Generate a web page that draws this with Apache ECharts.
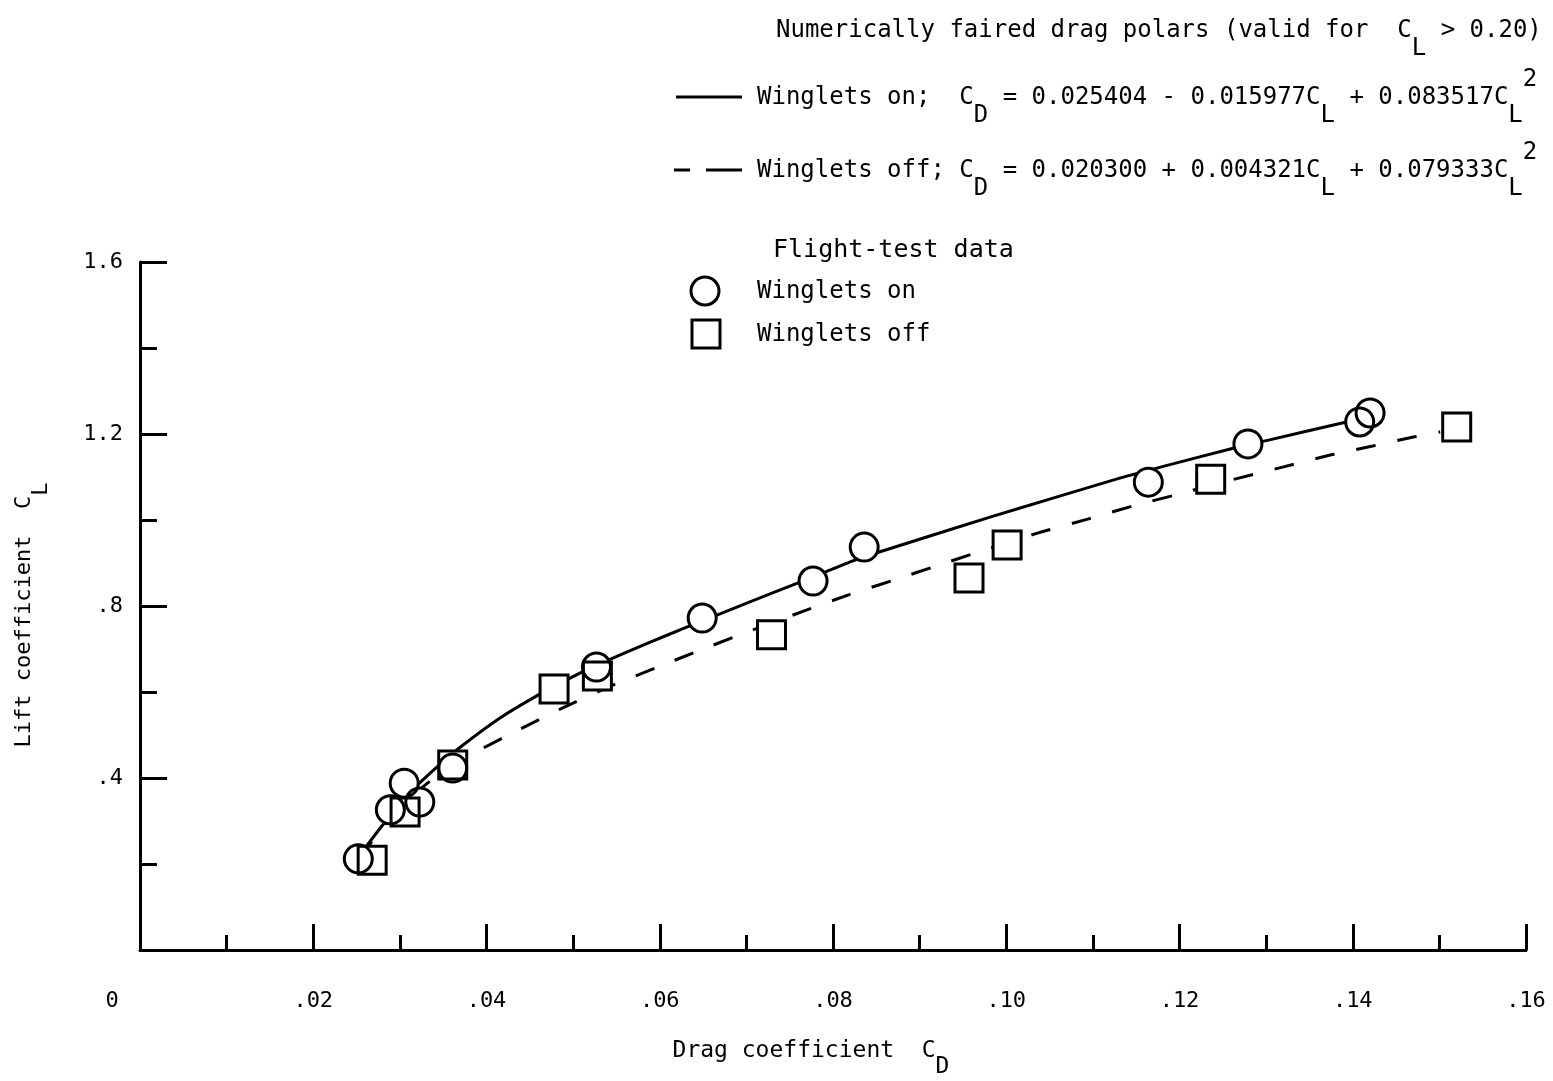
<!DOCTYPE html>
<html>
<head>
<meta charset="utf-8">
<script src="https://cdn.jsdelivr.net/npm/echarts@6.0.0/dist/echarts.min.js"></script>
<style>
html,body{margin:0;padding:0;background:#fff;}
#chart{width:1553px;height:1081px;}
</style>
</head>
<body>
<div id="chart"></div>
<script>
// ---- Data ----
// Flight-test data, winglets on (circles)
const onCD = [0.0252, 0.0289, 0.0305, 0.0323, 0.0361, 0.0527, 0.0649, 0.0777, 0.0836, 0.1164, 0.1279, 0.1408, 0.1420];
const onCL = [0.212, 0.326, 0.388, 0.344, 0.423, 0.658, 0.772, 0.858, 0.937, 1.088, 1.177, 1.228, 1.249];
// Flight-test data, winglets off (squares)
const offCD = [0.0268, 0.0306, 0.0361, 0.0478, 0.0528, 0.0729, 0.0957, 0.1001, 0.1236, 0.1520];
const offCL = [0.209, 0.321, 0.430, 0.607, 0.637, 0.733, 0.865, 0.942, 1.095, 1.216];
// Faired polar, winglets on (solid curve)
const onFitCD = [0.0252, 0.0281, 0.0312, 0.0343, 0.0370, 0.0416, 0.0458, 0.0497, 0.0528, 0.0589, 0.0629, 0.0666, 0.0712, 0.0759, 0.0823, 0.0857, 0.0985, 0.1051, 0.1132, 0.1178, 0.1262, 0.1299, 0.1389, 0.1406];
const onFitCL = [0.216, 0.293, 0.367, 0.426, 0.472, 0.540, 0.591, 0.633, 0.663, 0.716, 0.749, 0.779, 0.816, 0.853, 0.905, 0.928, 1.009, 1.049, 1.098, 1.123, 1.167, 1.184, 1.226, 1.233];
// Faired polar, winglets off (dashed curve)
const offFitCD = [0.0254, 0.0281, 0.0306, 0.0335, 0.0361, 0.0390, 0.0439, 0.0488, 0.0546, 0.0595, 0.0644, 0.0695, 0.0766, 0.0818, 0.0870, 0.0916, 0.0964, 0.1037, 0.1094, 0.1147, 0.1195, 0.1256, 0.1319, 0.1374, 0.1423, 0.1470, 0.1501];
const offFitCL = [0.214, 0.288, 0.344, 0.393, 0.430, 0.463, 0.514, 0.563, 0.616, 0.656, 0.695, 0.735, 0.788, 0.826, 0.860, 0.891, 0.923, 0.970, 1.002, 1.033, 1.058, 1.091, 1.123, 1.151, 1.172, 1.193, 1.205];
// Tick labels
const xTickLabels = ['0', '.02', '.04', '.06', '.08', '.10', '.12', '.14', '.16'];
const yTickLabels = ['', '.4', '.8', '1.2', '1.6'];

const FONT = '"DejaVu Sans Mono", monospace';
const zip = (a, b) => a.map((v, i) => [v, b[i]]);

function rich(size, lh, slh) {
  return {
    m: {fontSize: size, fontFamily: FONT, lineHeight: lh, verticalAlign: 'middle', fill: '#000', color: '#000'},
    s: {fontSize: size, fontFamily: FONT, lineHeight: slh, verticalAlign: 'bottom', fill: '#000', color: '#000'},
    p: {fontSize: size, fontFamily: FONT, lineHeight: slh, verticalAlign: 'top', fill: '#000', color: '#000'}
  };
}
function txt(x, y, text, size) {
  return {
    type: 'text', x: x, y: y, z: 20, silent: true,
    style: {text: text, rich: rich(size, 60, 28), fontFamily: FONT, fontSize: size, fill: '#000',
            align: 'left', verticalAlign: 'middle', textAlign: 'left', textVerticalAlign: 'middle'}
  };
}

const chart = echarts.init(document.getElementById('chart'), null, {renderer: 'canvas'});
const black = '#000';
const transparent = 'rgba(0,0,0,0)';

chart.setOption({
  animation: false,
  backgroundColor: '#fff',
  grid: {left: 140, right: 27, top: 262, bottom: 131, containLabel: false, outerBoundsMode: 'none'},
  xAxis: {
    type: 'value', min: 0, max: 0.16, interval: 0.02,
    axisLine: {show: true, lineStyle: {color: black, width: 3}},
    axisTick: {show: true, inside: true, length: 26, lineStyle: {color: black, width: 3}},
    minorTick: {show: true, splitNumber: 2, length: 15, lineStyle: {color: black, width: 3}},
    splitLine: {show: false}, minorSplitLine: {show: false},
    axisLabel: {
      margin: 40, fontFamily: FONT, fontSize: 22, color: black, showMinLabel: true, showMaxLabel: true,
      formatter: function (v) {
        const i = Math.round(v / 0.02);
        const t = xTickLabels[i] || '';
        return i === 0 ? '{z|' + t + '}' : t;
      },
      rich: {z: {fontFamily: FONT, fontSize: 22, color: black, padding: [0, 56, 0, 0]}}
    },
    name: '{m|Drag coefficient  C}{s|D}',
    nameLocation: 'middle', nameGap: 73,
    nameTextStyle: {fontFamily: FONT, fontSize: 23, color: black, padding: [0, 44, 0, 0], rich: rich(23, 56, 26)}
  },
  yAxis: {
    type: 'value', min: 0, max: 1.6, interval: 0.4,
    axisLine: {show: true, lineStyle: {color: black, width: 3}},
    axisTick: {show: true, inside: true, length: 27, lineStyle: {color: black, width: 3}},
    minorTick: {show: true, splitNumber: 2, length: 17, lineStyle: {color: black, width: 3}},
    splitLine: {show: false}, minorSplitLine: {show: false},
    axisLabel: {
      margin: 17, fontFamily: FONT, fontSize: 22, color: black, showMinLabel: true, showMaxLabel: true,
      formatter: function (v) { return yTickLabels[Math.round(v / 0.4)] || ''; }
    },
    name: '{m|Lift coefficient  C}{s|L}',
    nameLocation: 'middle', nameGap: 88, nameRotate: 90,
    nameTextStyle: {fontFamily: FONT, fontSize: 22, color: black, padding: [0, 18, 0, 0], rich: rich(22, 56, 26)}
  },
  series: [
    {
      type: 'line', name: 'Winglets on fit', data: zip(onFitCD, onFitCL), symbol: 'none', smooth: 0.2,
      lineStyle: {color: black, width: 3, type: 'solid', opacity: 1}, z: 2, silent: true
    },
    {
      type: 'line', name: 'Winglets off fit', data: zip(offFitCD, offFitCL), symbol: 'none', smooth: 0.2,
      lineStyle: {color: black, width: 3, type: [20, 22], opacity: 1}, z: 2, silent: true
    },
    {
      type: 'scatter', data: zip(onCD, onCL), symbol: 'circle', symbolSize: 30,
      itemStyle: {color: '#fff', borderWidth: 0, opacity: 1}, z: 3, silent: true
    },
    {
      type: 'scatter', data: zip(offCD, offCL), symbol: 'rect', symbolSize: 30,
      itemStyle: {color: '#fff', borderWidth: 0, opacity: 1}, z: 3, silent: true
    },
    {
      type: 'scatter', name: 'Winglets on', data: zip(onCD, onCL), symbol: 'circle', symbolSize: 28,
      itemStyle: {color: transparent, borderColor: black, borderWidth: 3, opacity: 1}, z: 4, silent: true
    },
    {
      type: 'scatter', name: 'Winglets off', data: zip(offCD, offCL), symbol: 'rect', symbolSize: 28,
      itemStyle: {color: transparent, borderColor: black, borderWidth: 3, opacity: 1}, z: 4, silent: true
    }
  ],
  graphic: {
    elements: [
      txt(776, 31, '{m|Numerically faired drag polars (valid for  C}{s|L}{m| > 0.20)}', 24),
      {type: 'line', z: 20, silent: true, shape: {x1: 676, y1: 97, x2: 742, y2: 97}, style: {stroke: black, lineWidth: 3}},
      txt(757, 98, '{m|Winglets on;  C}{s|D}{m| = 0.025404 - 0.015977C}{s|L}{m| + 0.083517C}{s|L}{p|2}', 24),
      {type: 'line', z: 20, silent: true, shape: {x1: 674, y1: 170, x2: 690, y2: 170}, style: {stroke: black, lineWidth: 3}},
      {type: 'line', z: 20, silent: true, shape: {x1: 706, y1: 170, x2: 742, y2: 170}, style: {stroke: black, lineWidth: 3}},
      txt(757, 171, '{m|Winglets off; C}{s|D}{m| = 0.020300 + 0.004321C}{s|L}{m| + 0.079333C}{s|L}{p|2}', 24),
      txt(773, 250, '{m|Flight-test data}', 25),
      {type: 'circle', z: 20, silent: true, shape: {cx: 705, cy: 291, r: 14}, style: {fill: transparent, stroke: black, lineWidth: 3}},
      txt(757, 292, '{m|Winglets on}', 24),
      {type: 'rect', z: 20, silent: true, shape: {x: 692, y: 320, width: 28, height: 28}, style: {fill: transparent, stroke: black, lineWidth: 3}},
      txt(757, 335, '{m|Winglets off}', 24)
    ]
  }
});
</script>
</body>
</html>
